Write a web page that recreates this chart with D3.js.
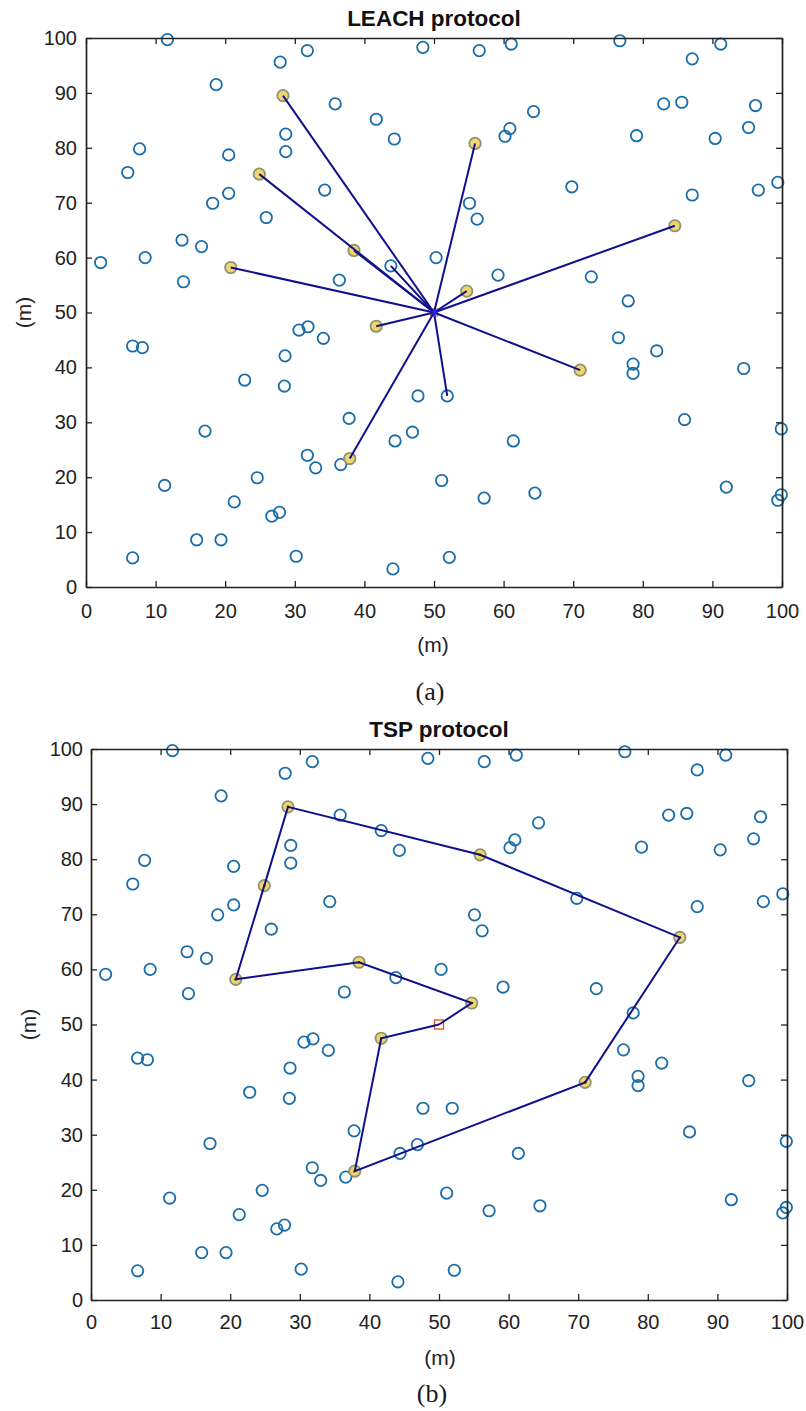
<!DOCTYPE html>
<html>
<head>
<meta charset="utf-8">
<script src="https://cdn.jsdelivr.net/npm/d3@7"></script>
<style>
  body { margin: 0; background: #fff; }
  svg { display: block; }
</style>
</head>
<body>
<div class="visualisation"></div>
<script>
// ordinary sensor nodes (m)
var nodeX = [11.7, 27.9, 31.8, 18.7, 35.8, 41.7, 44.3, 28.7, 28.7, 7.7, 6.0, 20.5, 20.5, 18.2, 34.3, 25.9,
  13.8, 16.6, 8.5, 2.1, 14.0, 36.4, 43.8, 48.4, 56.5, 61.1, 76.7, 91.2, 87.1, 64.3, 60.9, 60.2, 79.1, 83.0,
  85.6, 96.2, 95.2, 90.4, 99.4, 96.6, 87.1, 69.8, 55.1, 56.2, 50.3, 59.2, 72.6, 77.9, 6.7, 8.1, 30.6, 31.9,
  34.1, 28.6, 22.8, 28.5, 37.8, 17.1, 31.8, 33.0, 36.6, 24.6, 11.3, 21.3, 26.7, 27.8, 15.9, 19.4, 6.7, 30.2,
  44.1, 44.4, 76.5, 82.0, 78.6, 78.6, 94.5, 47.7, 51.9, 46.9, 61.4, 86.0, 99.9, 51.1, 57.2, 64.5, 92.0, 99.9,
  99.4, 52.2];
var nodeY = [99.7, 95.6, 97.7, 91.5, 88.0, 85.2, 81.6, 82.5, 79.3, 79.8, 75.5, 78.7, 71.7, 69.9, 72.3, 67.3,
  63.2, 62.0, 60.0, 59.1, 55.6, 55.9, 58.5, 98.3, 97.7, 98.9, 99.5, 98.9, 96.2, 86.6, 83.5, 82.1, 82.2, 88.0,
  88.3, 87.7, 83.7, 81.7, 73.7, 72.3, 71.4, 72.9, 69.9, 67.0, 60.0, 56.8, 56.5, 52.1, 43.9, 43.6, 46.8, 47.4,
  45.3, 42.1, 37.7, 36.6, 30.7, 28.4, 24.0, 21.7, 22.3, 19.9, 18.5, 15.5, 12.9, 13.6, 8.6, 8.6, 5.3, 5.6,
  3.3, 26.6, 45.4, 43.0, 40.6, 38.9, 39.8, 34.8, 34.8, 28.2, 26.6, 30.5, 28.8, 19.4, 16.2, 17.1, 18.2, 16.8,
  15.8, 5.4];

// cluster heads, listed in TSP tour order
var headX = [54.7, 38.5, 20.8, 24.9, 28.3, 55.9, 84.6, 71.0, 37.9, 41.7];
var headY = [53.9, 61.3, 58.2, 75.2, 89.5, 80.8, 65.8, 39.5, 23.4, 47.5];

// extra LEACH links to the sink (non-head nodes)
var linkX = [43.8, 51.9];
var linkY = [58.5, 34.8];

var sink = [50, 50];
var ticks = [0, 10, 20, 30, 40, 50, 60, 70, 80, 90, 100];

var width = 806, height = 1411;
var blue = "#1b6da8", ink = "#222", lineCol = "#10108c";

var svg = d3.select(".visualisation").append("svg")
    .attr("width", width)
    .attr("height", height);

var drawPanel = function(p) {
  var x = d3.scaleLinear().domain([0, 100]).range([p.left, p.left + p.w]);
  var y = d3.scaleLinear().domain([0, 100]).range([p.top + p.h, p.top]);
  var g = svg.append("g");

  var heads = headX.map(function(d, i) { return [d, headY[i]]; });

  // sink underneath
  if (p.mode == "tsp") {
    g.append("rect")
      .attr("x", x(sink[0]) - 4.5).attr("y", y(sink[1]) - 4.5)
      .attr("width", 9).attr("height", 9)
      .attr("fill", "none").attr("stroke", "#d95319").attr("stroke-width", 1.3);
  } else {
    g.append("rect")
      .attr("x", x(sink[0]) - 3.5).attr("y", y(sink[1]) - 3.5)
      .attr("width", 7).attr("height", 7)
      .attr("fill", "none").attr("stroke", "#d95319").attr("stroke-width", 1);
  }

  g.selectAll(".node").data(nodeX).enter().append("circle")
      .attr("class", "node")
      .attr("cx", function(d) { return x(d); })
      .attr("cy", function(d, i) { return y(nodeY[i]); })
      .attr("r", 5.7)
      .attr("fill", "none")
      .attr("stroke", blue)
      .attr("stroke-width", 1.8);

  g.selectAll(".head").data(heads).enter().append("circle")
      .attr("class", "head")
      .attr("cx", function(d) { return x(d[0]); })
      .attr("cy", function(d) { return y(d[1]); })
      .attr("r", 5.7)
      .attr("fill", "#f2d56e")
      .attr("stroke", "#8c9470")
      .attr("stroke-width", 1.8);

  if (p.mode == "leach") {
    var ends = heads.concat(linkX.map(function(d, i) { return [d, linkY[i]]; }));
    g.selectAll(".link").data(ends).enter().append("line")
        .attr("x1", x(sink[0])).attr("y1", y(sink[1]))
        .attr("x2", function(d) { return x(d[0]); })
        .attr("y2", function(d) { return y(d[1]); })
        .attr("stroke", lineCol)
        .attr("stroke-width", 2);
    g.append("path")
      .attr("d", d3.symbol().type(d3.symbolAsterisk).size(40)())
      .attr("transform", "translate(" + x(sink[0]) + "," + y(sink[1]) + ")")
      .attr("stroke", "#2020ff").attr("stroke-width", 1.3).attr("fill", "none");
  } else {
    var tour = [sink].concat(heads).concat([sink]);
    g.append("path")
      .datum(tour)
      .attr("d", d3.line().x(function(d) { return x(d[0]); }).y(function(d) { return y(d[1]); }))
      .attr("fill", "none")
      .attr("stroke", lineCol)
      .attr("stroke-width", 2);
    g.selectAll(".dot").data(heads).enter().append("circle")
      .attr("cx", function(d) { return x(d[0]); })
      .attr("cy", function(d) { return y(d[1]); })
      .attr("r", 1.3).attr("fill", "#222");
  }

  // axes, ticks point inward
  var axes = [
    [d3.axisBottom(x).tickValues(ticks).tickSize(-6).tickSizeOuter(0).tickPadding(p.xpad), "translate(0," + (p.top + p.h) + ")", true],
    [d3.axisLeft(y).tickValues(ticks).tickSize(-6).tickSizeOuter(0).tickPadding(p.ypad), "translate(" + p.left + ",0)", true],
    [d3.axisTop(x).tickValues(ticks).tickSize(-6).tickSizeOuter(0).tickFormat(""), "translate(0," + p.top + ")", false],
    [d3.axisRight(y).tickValues(ticks).tickSize(-6).tickSizeOuter(0).tickFormat(""), "translate(" + (p.left + p.w) + ",0)", false]
  ];
  axes.forEach(function(a) {
    var ag = g.append("g").attr("transform", a[1]).call(a[0]);
    ag.select(".domain").attr("stroke", ink).attr("stroke-width", 1.7);
    ag.selectAll(".tick line").attr("stroke", ink).attr("stroke-width", 1.3);
    ag.selectAll("text")
      .attr("fill", ink)
      .style("font-family", "'Liberation Sans', Arial, sans-serif")
      .style("font-size", "20px");
  });

  g.append("text")
    .attr("x", p.titleX).attr("y", p.top - 20)
    .attr("text-anchor", "middle").attr("dy", "0.35em")
    .style("font-family", "'Liberation Sans', Arial, sans-serif")
    .style("font-weight", "bold").style("font-size", "22.5px")
    .attr("fill", "#111")
    .text(p.title);

  g.append("text")
    .attr("x", p.xlabX).attr("y", p.xlabY)
    .attr("text-anchor", "middle").attr("dy", "0.35em")
    .style("font-family", "'Liberation Sans', Arial, sans-serif")
    .style("font-size", "21px").attr("fill", ink)
    .text("(m)");

  g.append("text")
    .attr("transform", "translate(" + p.ylabX + "," + (p.top + p.h / 2) + ") rotate(-90)")
    .attr("text-anchor", "middle").attr("dy", "0.35em")
    .style("font-family", "'Liberation Sans', Arial, sans-serif")
    .style("font-size", "21px").attr("fill", ink)
    .text("(m)");

  g.append("text")
    .attr("x", p.capX).attr("y", p.capY)
    .attr("text-anchor", "middle").attr("dy", "0.35em")
    .style("font-family", "'Liberation Serif', 'Times New Roman', serif")
    .style("font-size", "26px").attr("fill", "#1a1a1a")
    .text(p.caption);
};

drawPanel({mode: "leach", left: 86, top: 38, w: 696, h: 549, xpad: 17, ypad: 9,
  title: "LEACH protocol", titleX: 434, xlabX: 433, xlabY: 645, ylabX: 24, capX: 430, capY: 691, caption: "(a)"});
drawPanel({mode: "tsp", left: 91, top: 749, w: 696, h: 551, xpad: 15, ypad: 8,
  title: "TSP protocol", titleX: 439, xlabX: 440, xlabY: 1358, ylabX: 29, capX: 432, capY: 1393, caption: "(b)"});
</script>
</body>
</html>
